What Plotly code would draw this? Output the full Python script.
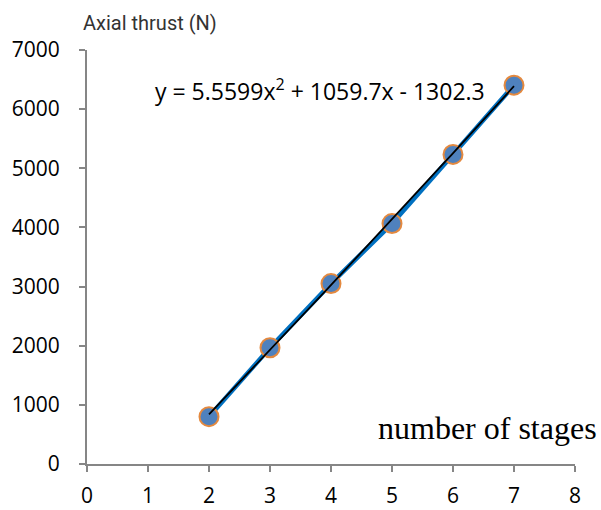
import numpy as np
import plotly.graph_objects as go

stages = [2, 3, 4, 5, 6, 7]
thrust = [800, 1965, 3050, 4065, 5235, 6405]
coef = [5.5599, 1059.7, -1302.3]
x_ticks = [0, 1, 2, 3, 4, 5, 6, 7, 8]
y_ticks = [0, 1000, 2000, 3000, 4000, 5000, 6000, 7000]

xf = np.linspace(min(stages), max(stages), 60)
yf = coef[0] * xf**2 + coef[1] * xf + coef[2]

fig = go.Figure()
fig.add_trace(go.Scatter(x=stages, y=thrust, mode="lines+markers",
                         line=dict(color="#0070C0", width=4.5),
                         marker=dict(size=19, color="#4F81BD", line=dict(color="#E4893F", width=2)),
                         showlegend=False))
fig.add_trace(go.Scatter(x=xf, y=yf, mode="lines", line=dict(color="black", width=1.8),
                         showlegend=False))

axis_common = dict(showgrid=False, zeroline=False, showline=True, linecolor="#868686", linewidth=2,
                   ticks="outside", tickcolor="#868686", ticklen=6, tickwidth=1.5, automargin=False,
                   tickfont=dict(family="Open Sans", size=21, color="black"))
fig.update_xaxes(range=[0, 8], tickvals=x_ticks, ticklabelstandoff=6, **axis_common)
fig.update_yaxes(range=[0, 7000], tickvals=y_ticks, ticklabelstandoff=15, **axis_common)

fig.add_annotation(text="Axial thrust (N)", xref="paper", yref="paper", x=0.129, y=1.065,
                   xanchor="center", yanchor="middle", showarrow=False,
                   font=dict(family="Roboto", size=20, color="#333333"))
fig.add_annotation(text="y = 5.5599x<sup>2</sup> + 1059.7x - 1302.3", xref="x", yref="y", x=3.82, y=6330,
                   xanchor="center", showarrow=False, font=dict(family="Open Sans", size=23, color="black"))
fig.add_annotation(text="number of stages", xref="paper", yref="paper", x=1.05, y=0.087, xanchor="right",
                   yanchor="middle", showarrow=False,
                   font=dict(family="Liberation Serif", size=32, color="black"))

fig.update_layout(width=601, height=510, margin=dict(l=87, r=26, t=50, b=46),
                  plot_bgcolor="white", paper_bgcolor="white")
fig.write_html("out.html")
